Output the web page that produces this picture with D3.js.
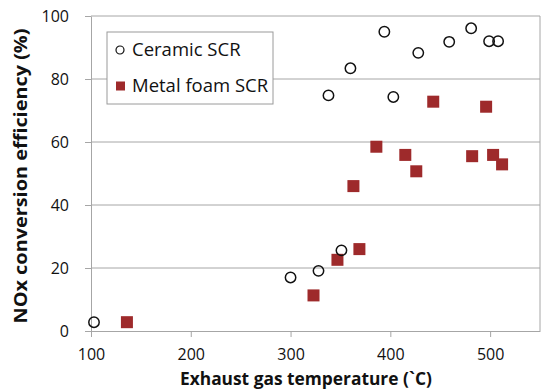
<!DOCTYPE html>
<html>
<head>
<meta charset="utf-8">
<script src="https://cdn.jsdelivr.net/npm/d3@7"></script>
<style>
  body { margin: 0; background: #fff; }
  text { font-family: "Open Sans", sans-serif; fill: #111; }
</style>
</head>
<body>
<div id="chart"></div>
<script>
// data
const ceramicTemp = [103, 300, 328, 351, 338, 360, 394, 403, 428, 459, 481, 499, 508];
const ceramicEff  = [2.8, 17.0, 19.1, 25.6, 74.8, 83.4, 95.0, 74.3, 88.3, 91.8, 96.1, 92.0, 92.0];

const foamTemp = [136, 323, 347, 369, 363, 386, 415, 426, 443, 482, 496, 503, 512];
const foamEff  = [2.8, 11.3, 22.6, 26.0, 46.0, 58.5, 55.9, 50.7, 72.8, 55.5, 71.2, 55.9, 52.9];

const xTicks = [100, 200, 300, 400, 500];
const yTicks = [0, 20, 40, 60, 80, 100];
const seriesNames = ['Ceramic SCR', 'Metal foam SCR'];

const width = 541, height = 391;
const margin = {left: 91, right: 1, top: 16, bottom: 60};
const red = '#9e2a2b';

const svg = d3.select('#chart').append('svg')
  .attr('width', width)
  .attr('height', height);

const x = d3.scaleLinear().domain([100, 550]).range([margin.left, width - margin.right]);
const y = d3.scaleLinear().domain([0, 100]).range([height - margin.bottom, margin.top]);

// grid lines
svg.append('g')
  .selectAll('line')
  .data(yTicks.filter(d => d > 0))
  .join('line')
  .attr('x1', x(100)).attr('x2', x(550))
  .attr('y1', d => y(d)).attr('y2', d => y(d))
  .attr('stroke', '#a6a6a6').attr('stroke-width', 1);

// right border
svg.append('line')
  .attr('x1', x(550)).attr('x2', x(550))
  .attr('y1', y(0)).attr('y2', y(100))
  .attr('stroke', '#a6a6a6');

// axes
const xAxis = svg.append('g')
  .attr('transform', `translate(0,${y(0)})`)
  .call(d3.axisBottom(x).tickValues(xTicks).tickSize(6).tickPadding(12).tickSizeOuter(0));

const yAxis = svg.append('g')
  .attr('transform', `translate(${x(100)},0)`)
  .call(d3.axisLeft(y).tickValues(yTicks).tickSize(6).tickPadding(16).tickSizeOuter(0));

[xAxis, yAxis].forEach(g => {
  g.select('.domain').attr('stroke', '#a6a6a6');
  g.selectAll('.tick line').attr('stroke', '#a6a6a6');
  g.selectAll('.tick text')
    .attr('font-family', '"Open Sans", sans-serif')
    .attr('font-size', 16)
    .attr('fill', '#111');
});
xAxis.selectAll('.tick text').attr('dy', '0.71em');

// axis titles
svg.append('text')
  .attr('x', 306).attr('y', 385)
  .attr('text-anchor', 'middle')
  .attr('font-weight', 'bold')
  .attr('font-size', 17.5)
  .attr('textLength', 252)
  .attr('lengthAdjust', 'spacingAndGlyphs')
  .text('Exhaust gas temperature (`C)');

svg.append('text')
  .attr('transform', 'translate(27,176) rotate(-90)')
  .attr('text-anchor', 'middle')
  .attr('font-weight', 'bold')
  .attr('font-size', 17.5)
  .attr('textLength', 295)
  .attr('lengthAdjust', 'spacingAndGlyphs')
  .text('NOx conversion efficiency (%)');

// points
const ceramic = ceramicTemp.map((t, i) => ({t: t, e: ceramicEff[i]}));
const foam = foamTemp.map((t, i) => ({t: t, e: foamEff[i]}));

const sq = 12;
svg.append('g')
  .selectAll('rect')
  .data(foam)
  .join('rect')
  .attr('x', d => x(d.t) - sq / 2)
  .attr('y', d => y(d.e) - sq / 2)
  .attr('width', sq).attr('height', sq)
  .attr('fill', red);

svg.append('g')
  .selectAll('circle')
  .data(ceramic)
  .join('circle')
  .attr('cx', d => x(d.t))
  .attr('cy', d => y(d.e))
  .attr('r', 5.2)
  .attr('fill', 'none')
  .attr('stroke', '#111')
  .attr('stroke-width', 1.5);

// legend
const legend = svg.append('g').attr('transform', 'translate(107,32)');
legend.append('rect')
  .attr('width', 166).attr('height', 72)
  .attr('fill', '#fff')
  .attr('stroke', '#9a9a9a');

const rows = legend.selectAll('g.row')
  .data(seriesNames)
  .join('g')
  .attr('class', 'row')
  .attr('transform', (d, i) => `translate(0,${18 + i * 36})`);

rows.filter((d, i) => i === 0).append('circle')
  .attr('cx', 13).attr('cy', 0).attr('r', 4)
  .attr('fill', 'none').attr('stroke', '#111').attr('stroke-width', 1.2);

rows.filter((d, i) => i === 1).append('rect')
  .attr('x', 9).attr('y', -4.5).attr('width', 9).attr('height', 9)
  .attr('fill', red);

rows.append('text')
  .attr('x', 25).attr('y', 0)
  .attr('dy', '0.35em')
  .attr('font-size', 18.5)
  .text(d => d);
</script>
</body>
</html>
